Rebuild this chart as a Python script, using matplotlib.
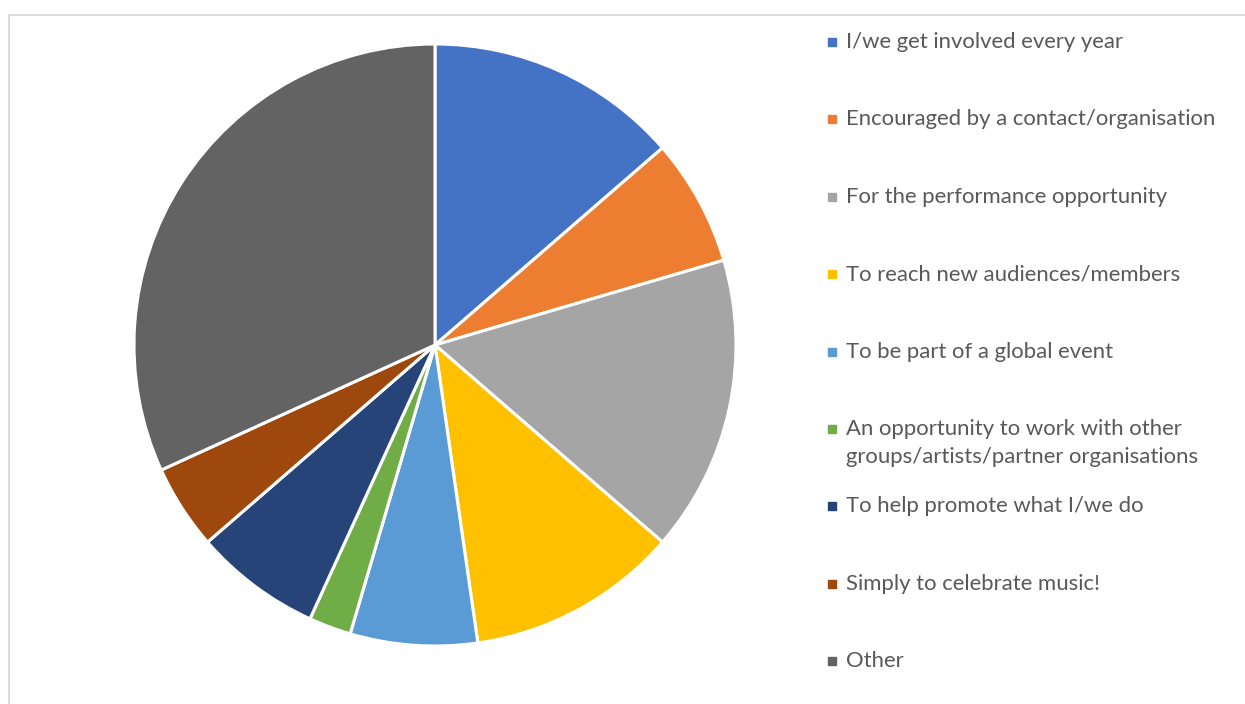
import matplotlib.pyplot as plt
from matplotlib.patches import Rectangle

# Data
labels = [
    "I/we get involved every year",
    "Encouraged by a contact/organisation",
    "For the performance opportunity",
    "To reach new audiences/members",
    "To be part of a global event",
    "An opportunity to work with other\ngroups/artists/partner organisations",
    "To help promote what I/we do",
    "Simply to celebrate music!",
    "Other",
]
counts = [6, 3, 7, 5, 3, 1, 3, 2, 14]
colors = ["#4472C4", "#ED7D31", "#A5A5A5", "#FFC000", "#5B9BD5",
          "#70AD47", "#264478", "#9E480E", "#636363"]

W, H = 1245, 704
fig = plt.figure(figsize=(W / 100, H / 100), dpi=100)

# chart area border
fig.patches.append(Rectangle((8.5 / W, -0.1), 1.2, 1 - 14.5 / H + 0.1,
                             transform=fig.transFigure, fill=False,
                             edgecolor="#D9D9D9", linewidth=1.3))

# Pie
cx, cy, r = 435, 345, 301
ax = fig.add_axes([(cx - r) / W, (H - cy - r) / H, 2 * r / W, 2 * r / H])
ax.pie(counts, colors=colors, startangle=90, counterclock=False,
       wedgeprops=dict(edgecolor="white", linewidth=2.2))
ax.set_xlim(-1, 1)
ax.set_ylim(-1, 1)
ax.set_aspect("equal")

# Legend
y0, step, line_h = 42, 77.4, 28
for i, (lab, col) in enumerate(zip(labels, colors)):
    yc = y0 + i * step
    fig.patches.append(Rectangle(((828) / W, (H - yc - 4) / H), 8 / W, 8 / H,
                                 transform=fig.transFigure, color=col))
    n = lab.count("\n") + 1
    fig.text(846 / W, (H - yc - (n - 1) * line_h / 2) / H, lab,
             fontsize=15.9, family="Lato", color="#595959",
             va="center", ha="left", linespacing=1.45)

fig.savefig("out.png", dpi=100)
